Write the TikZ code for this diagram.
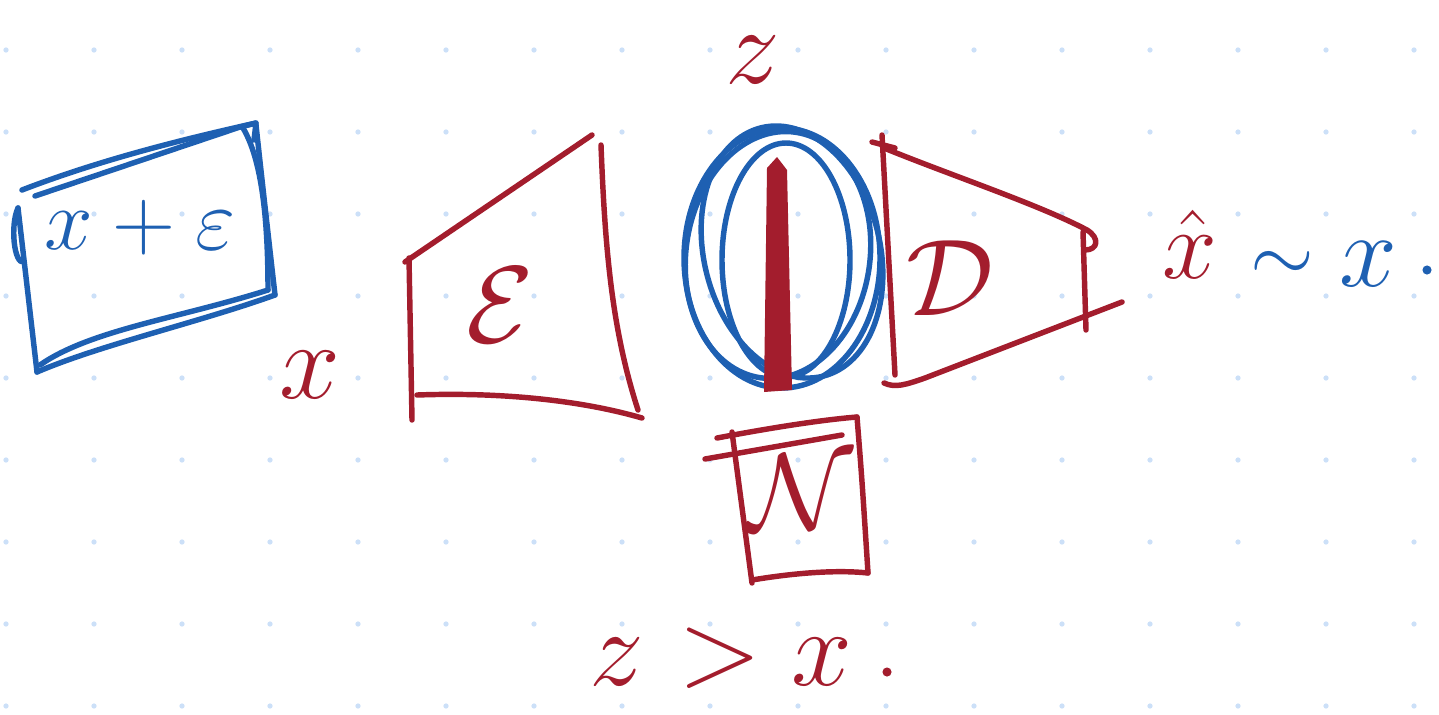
\documentclass[tikz,border=0pt]{standalone}
\definecolor{inkred}{RGB}{163,29,45}
\definecolor{inkblue}{RGB}{30,96,178}
\definecolor{griddot}{RGB}{204,224,248}
\tikzset{
  redink/.style={draw=inkred, line width=3.1pt, line cap=round, line join=round},
  blueink/.style={draw=inkblue, line width=3.1pt, line cap=round, line join=round},
  redlabel/.style={text=inkred, inner sep=0pt, font=\Huge, scale=2.5},
  bluelabel/.style={text=inkblue, inner sep=0pt, font=\Huge, scale=2.5},
}
\begin{document}
\begin{tikzpicture}[x=0.02cm,y=-0.02cm]
\useasboundingbox (0,0) rectangle (1439,714);
% dotted grid
\foreach \i in {0,...,16} \foreach \j in {0,...,8}
  \fill[griddot] (6+88*\i,50+82*\j) circle[radius=1.5pt];

% blue box x+eps
\draw[blueink] (22,190) .. controls (100,160) and (180,140) .. (256,123);
\draw[blueink] (35,196) -- (240,127);
\draw[blueink] (240,127) -- (256,123) -- (254,140);
\draw[blueink] (243,128) .. controls (262,160) and (268,220) .. (268,290);
\draw[blueink] (256,125) .. controls (262,180) .. (275,295);
\draw[blueink] (18,208) .. controls (10,225) and (14,265) .. (24,262);
\draw[blueink] (18,208) -- (37,372);
\draw[blueink] (37,372) .. controls (100,345) and (200,322) .. (275,295);
\draw[blueink] (40,365) .. controls (90,330) and (180,318) .. (268,290);
\node[bluelabel, scale=0.8] (xe) at (140,228) {$x+\varepsilon$};

% encoder
\draw[redink] (405,262) -- (592,135);
\draw[redink] (409,258) -- (412,420);
\draw[redink] (417,395) .. controls (500,392) and (580,400) .. (642,418);
\draw[redink] (601,145) .. controls (605,250) and (612,330) .. (638,410);
\node[redlabel] (enc) at (500,305) {$\mathcal{E}$};
\node[redlabel] (xin) at (310,375) {$x$};

% latent ellipses
\draw[blueink] (782,258) ellipse [x radius=98, y radius=130];
\draw[blueink, rotate around={14:(792,252)}] (792,252) ellipse [x radius=88, y radius=128];
\draw[blueink, rotate around={-8:(778,255)}] (778,255) ellipse [x radius=92, y radius=124];
\draw[blueink] (786,260) ellipse [x radius=64, y radius=117];
\fill[inkred] (767,168) -- (777,157) -- (787,170) -- (792,390) -- (764,392) -- cycle;
\node[redlabel] (ztop) at (753,60) {$z$};

% decoder
\draw[redink] (872,142) -- (895,148);
\draw[redink] (882,135) -- (895,375);
\draw[redink] (884,148) .. controls (950,175) and (1040,205) .. (1087,230) .. controls (1100,238) and (1098,250) .. (1085,250);
\draw[redink] (1083,232) -- (1086,330);
\draw[redink] (884,383) .. controls (895,388) and (905,385) .. (925,378) -- (1122,302);
\node[redlabel] (dec) at (950,278) {$\mathcal{D}$};

% noise box
\draw[redink] (732,432) -- (752,583);
\draw[redink] (717,438) .. controls (770,428) and (820,420) .. (857,417);
\draw[redink] (705,459) -- (842,435);
\draw[redink] (857,417) .. controls (862,480) .. (868,573);
\draw[redink] (752,580) .. controls (800,572) and (840,570) .. (868,573);
\node[redlabel] (noise) at (800,492) {$\mathcal{N}$};

% bottom relation
\node[redlabel] (zb) at (617,662) {$z$};
\node[redlabel] (gt) at (720,658) {$>$};
\node[redlabel] (xb) at (822,662) {$x$};
\fill[inkred] (887,672) circle[radius=2.6pt];

% reconstruction
\node[redlabel, scale=0.9] (xhat) at (1190,244) {$\hat{x}$};
\node[bluelabel, scale=0.75] (sim) at (1282,266) {$\sim$};
\node[bluelabel, scale=0.95] (xr) at (1368,264) {$x$};
\fill[inkblue] (1427,270) circle[radius=2.6pt];
\end{tikzpicture}
\end{document}
